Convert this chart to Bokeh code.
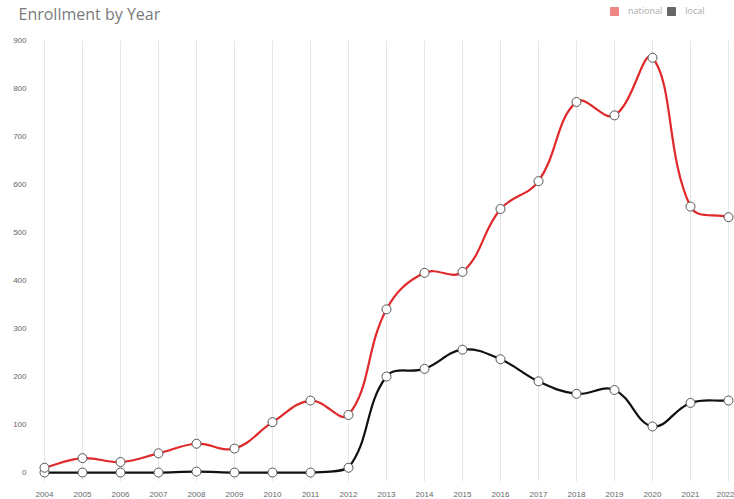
import numpy as np
from bokeh.plotting import figure
from bokeh.layouts import column
from bokeh.models import Legend, LegendItem, Range1d, FixedTicker, Label
from bokeh.embed import file_html
from bokeh.resources import INLINE

years = list(range(2004, 2023))
national = [10, 30, 22, 40, 60, 50, 105, 150, 120, 340, 416, 418, 549, 607, 772, 744, 864, 554, 532]
local = [0, 0, 0, 0, 2, 0, 0, 0, 10, 200, 216, 256, 236, 190, 164, 172, 96, 145, 150]
y_ticks = [0, 100, 200, 300, 400, 500, 600, 700, 800, 900]
series_names = ["national", "local"]
title_text = "Enrollment by Year"

W = 734
HEAD_H = 34
H = 499 - HEAD_H
LEFT, TOP, BOTTOM = 38, 6, 16
FRAME_W = W - LEFT
FRAME_H = H - TOP - BOTTOM
SX = 38.0
SY = 434.0 / 900.0
X0 = 2004 - 6 / SX
X1 = X0 + FRAME_W / SX
Y1 = 900
Y0 = Y1 - FRAME_H / SY
NAN = float("nan")

# ---------- header: title + legend ----------
head = figure(width=W, height=HEAD_H, output_backend="svg", toolbar_location=None,
              x_range=Range1d(0, W), y_range=Range1d(0, HEAD_H),
              x_axis_location=None, y_axis_location=None,
              min_border_left=0, min_border_right=0, min_border_top=0, min_border_bottom=0)
head.frame_align = False
head.grid.visible = False
head.outline_line_color = None
head.background_fill_color = "white"
head.border_fill_color = "white"
head.add_layout(Label(x=18, y=HEAD_H - 13, x_units="screen", y_units="screen",
                      text=title_text, text_font="Open Sans", text_font_size="16px",
                      text_color="#7a7a7a", text_baseline="alphabetic"))
sw_nat = head.quad(left=[NAN], right=[NAN], top=[NAN], bottom=[NAN],
                   fill_color="#f08585", line_color="#f08585")
sw_loc = head.quad(left=[NAN], right=[NAN], top=[NAN], bottom=[NAN],
                   fill_color="#666666", line_color="#666666")
legend = Legend(items=[LegendItem(label=series_names[0], renderers=[sw_nat]),
                       LegendItem(label=series_names[1], renderers=[sw_loc])],
                orientation="horizontal", location=(609, HEAD_H - 17),
                glyph_width=10, glyph_height=10, label_height=10, label_standoff=9,
                spacing=4, padding=0, margin=0, border_line_color=None,
                background_fill_alpha=0, label_text_font="Open Sans",
                label_text_font_size="9px", label_text_color="#aaaaaa")
head.add_layout(legend, "center")

# ---------- main chart ----------
p = figure(width=W, height=H, output_backend="svg", toolbar_location=None,
           x_range=Range1d(X0, X1), y_range=Range1d(Y0, Y1),
           min_border_left=LEFT, min_border_right=0, min_border_bottom=BOTTOM, min_border_top=TOP)
p.frame_align = False
p.outline_line_color = None
p.background_fill_color = "white"
p.border_fill_color = "white"

p.xaxis.ticker = FixedTicker(ticks=years)
p.yaxis.ticker = FixedTicker(ticks=y_ticks)
for ax in (p.xaxis[0], p.yaxis[0]):
    ax.axis_line_color = None
    ax.major_tick_line_color = None
    ax.minor_tick_line_color = None
    ax.major_label_text_font = "Helvetica"
    ax.major_label_text_font_size = "8px"
    ax.major_label_text_color = "#666666"
p.xaxis.major_label_standoff = 4
p.yaxis.major_label_standoff = 6
p.xgrid.grid_line_color = "#e6e6e6"
p.xgrid.grid_line_width = 1
p.ygrid.grid_line_color = None


def spline(xs, ys, t=0.4):
    n = len(xs)
    px = [x * SX for x in xs]
    py = [y * SY for y in ys]
    cprev, cnext = [], []
    for i in range(n):
        a = max(i - 1, 0)
        b = min(i + 1, n - 1)
        d01 = np.hypot(px[i] - px[a], py[i] - py[a])
        d12 = np.hypot(px[b] - px[i], py[b] - py[i])
        s = d01 + d12
        s01 = d01 / s if s else 0
        s12 = d12 / s if s else 0
        fa, fb = t * s01, t * s12
        cprev.append((px[i] - fa * (px[b] - px[a]), py[i] - fa * (py[b] - py[a])))
        cnext.append((px[i] + fb * (px[b] - px[a]), py[i] + fb * (py[b] - py[a])))

    def cap(c):
        return (c[0] / SX, min(max(c[1] / SY, 0), 900))

    seg = dict(x0=[], y0=[], x1=[], y1=[], cx0=[], cy0=[], cx1=[], cy1=[])
    for i in range(n - 1):
        c0 = cap(cnext[i])
        c1 = cap(cprev[i + 1])
        seg["x0"].append(xs[i]); seg["y0"].append(ys[i])
        seg["x1"].append(xs[i + 1]); seg["y1"].append(ys[i + 1])
        seg["cx0"].append(c0[0]); seg["cy0"].append(c0[1])
        seg["cx1"].append(c1[0]); seg["cy1"].append(c1[1])
    return seg


red = "#e0292b"
black = "#111111"
for series, col in ((national, red), (local, black)):
    s = spline(years, series)
    p.bezier(x0=s["x0"], y0=s["y0"], x1=s["x1"], y1=s["y1"], cx0=s["cx0"], cy0=s["cy0"],
             cx1=s["cx1"], cy1=s["cy1"], line_color=col, line_width=2.2)

for series in (local, national):
    p.scatter(years, series, size=9, fill_color="white", line_color="#555555", line_width=1)

layout = column(head, p, spacing=0)
open("out.html", "w").write(file_html(layout, INLINE))
